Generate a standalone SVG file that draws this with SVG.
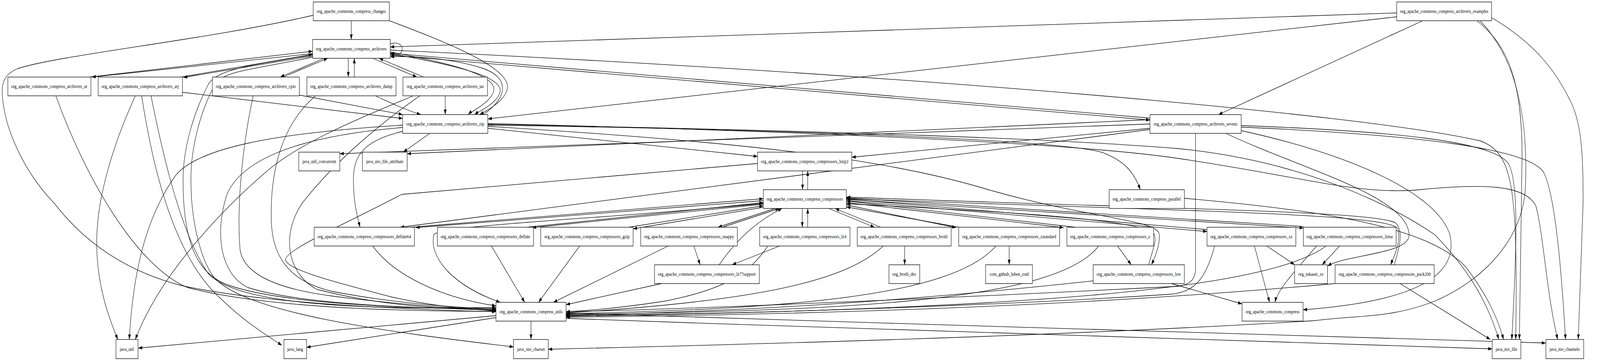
<svg xmlns="http://www.w3.org/2000/svg" width="5297" height="923" viewBox="0 0 5297 923" preserveAspectRatio="none">
<style>
svg{width:100%;height:923px}
.n rect{fill:#fff;stroke:#000;stroke-width:1.3}
.n text{font-family:"Liberation Serif","Times New Roman",serif;font-size:13.5px;text-anchor:middle;fill:#000}
#edges path{fill:none;stroke:#000;stroke-width:1.3;marker-end:url(#a)}
</style>
<defs>
<marker id="a" viewBox="0 0 13 9" refX="13" refY="4.5" markerWidth="13" markerHeight="9" markerUnits="userSpaceOnUse" orient="auto">
<path d="M0,0 L13,4.5 L0,9 z" fill="#000"/>
</marker>
</defs>
<rect width="5297" height="923" fill="#fff"/>
<g id="edges">
<path d="M1163,53 L1163,101"/>
<path d="M1037,39 C700,100 200,140 60,175 C12,190 4,215 8,245 C15,330 80,440 180,520 C300,640 450,700 600,730 C900,780 1400,792 1642,797"/>
<path d="M1289,53 C1450,100 1690,170 1680,225 C1675,255 1620,280 1588,293"/>
<path d="M1292,112 C1345,100 1345,150 1292,140"/>
<path d="M1035,137 L304,197"/>
<path d="M296,197 L1035,131"/>
<path d="M1035,143 L607,198"/>
<path d="M600,197 L1035,139"/>
<path d="M1073,149 L928,197"/>
<path d="M937,197 L1085,149"/>
<path d="M1153,149 L1153,197"/>
<path d="M1173,197 L1173,149"/>
<path d="M1234,149 L1380,197"/>
<path d="M1402,197 L1255,149"/>
<path d="M1292,133 C1480,160 1640,190 1635,230 C1630,260 1560,285 1550,293"/>
<path d="M1292,137 C1500,165 1660,195 1656,232 C1652,262 1585,285 1571,293"/>
<path d="M1600,293 C1680,250 1690,200 1600,175 C1500,150 1380,143 1292,145"/>
<path d="M1292,141 L3807,307"/>
<path d="M3807,302 L1292,136"/>
<path d="M4624,33 L1292,120"/>
<path d="M4624,43 L1615,304"/>
<path d="M4710,53 L4034,293"/>
<path d="M1292,128 C3000,190 4500,290 4900,360 C5010,390 5025,480 5018,868"/>
<path d="M4890,53 C5000,120 5039,220 5039,400 L5030,868"/>
<path d="M4938,45 C5080,110 5150,180 5200,260 C5240,320 5241,420 5241,520 L5225,868"/>
<path d="M4900,53 C5020,150 5060,300 5050,480 C5040,620 4900,720 4750,770 C4600,815 4500,805 4350,820 C3500,860 2500,880 1815,893"/>
<path d="M3958,341 L3958,690 C3956,718 3935,728 3900,732 C3200,760 2300,790 1874,797"/>
<path d="M4109,321 C4600,335 4950,360 4995,420 C5030,470 5020,650 5005,868"/>
<path d="M4109,325 C4700,345 5060,380 5110,440 C5150,500 5170,700 5183,868"/>
<path d="M4109,334 C4500,400 4760,500 4800,600 C4830,700 4700,770 4314,792"/>
<path d="M4059,341 C4300,430 4660,500 4665,600 C4668,650 4460,650 4395,680"/>
<path d="M3807,328 L2820,402"/>
<path d="M3807,331 L1325,581"/>
<path d="M3807,317 L1125,393"/>
<path d="M3807,306 L1348,393"/>
<path d="M1423,341 L1335,389"/>
<path d="M1615,328 L2508,400"/>
<path d="M1615,320 C2500,330 3500,355 3650,390 C3720,410 3755,440 3775,485"/>
<path d="M1615,323 C2400,360 2900,400 3250,480 C3600,560 3835,560 3838,600 C3840,630 3822,660 3812,677"/>
<path d="M1615,318 C2800,335 3500,355 3900,380 C4300,410 4600,520 4750,600 C4850,680 4920,760 4962,868"/>
<path d="M1615,316 C2800,338 3600,370 3900,405 C4300,450 4500,500 4700,485 C4900,470 5050,470 5085,527 C5110,600 5120,750 5157,868"/>
<path d="M1333,336 C1200,360 1170,400 1170,460 C1170,520 1185,560 1192,581"/>
<path d="M1333,320 C900,340 650,380 580,450 C480,560 440,700 428,868"/>
<path d="M1333,326 C950,350 790,420 750,500 C710,600 730,700 820,735 C1000,780 1400,788 1642,792"/>
<path d="M1474,245 L1474,293"/>
<path d="M1368,245 C1200,300 1000,360 880,440 C700,560 520,720 448,868"/>
<path d="M1390,245 C1250,320 1100,420 1000,520 C930,600 950,700 1050,740 C1250,780 1450,790 1642,793"/>
<path d="M1243,245 C1290,262 1340,280 1393,293"/>
<path d="M1045,245 C930,320 895,440 898,560 C900,680 990,725 1100,745 C1300,775 1500,786 1642,790"/>
<path d="M991,243 L1333,293"/>
<path d="M838,245 C795,400 785,550 795,640 C810,710 950,742 1100,757 C1300,777 1500,788 1642,794"/>
<path d="M1035,140 C850,165 720,175 690,215 C640,290 606,380 606,460 C606,600 640,700 760,730 C950,780 1400,790 1642,789"/>
<path d="M1035,146 C860,175 740,180 712,215 C660,290 632,380 632,460 C632,560 660,650 700,700 C780,800 1300,850 1700,887"/>
<path d="M448,245 C380,360 320,500 320,620 C320,740 370,830 390,868"/>
<path d="M469,245 C500,400 560,620 700,740 C800,820 880,855 933,883"/>
<path d="M500,245 C540,400 600,600 690,700 C800,790 1300,790 1642,786"/>
<path d="M604,236 L1333,303"/>
<path d="M185,245 C280,450 450,680 620,735 C900,792 1400,796 1642,796"/>
<path d="M1234,629 C1300,700 1450,760 1642,782"/>
<path d="M2527,520 C2000,560 1460,575 1436,600 C1420,660 1500,730 1656,773"/>
<path d="M2527,513 L1376,582"/>
<path d="M1360,581 L2527,508"/>
<path d="M2527,522 L1762,582"/>
<path d="M1744,581 L2527,518"/>
<path d="M2527,530 L2096,585"/>
<path d="M2082,581 L2527,526"/>
<path d="M2566,533 L2377,581"/>
<path d="M2392,581 L2580,533"/>
<path d="M2656,533 L2656,581"/>
<path d="M2674,581 L2674,533"/>
<path d="M2744,533 L2895,581"/>
<path d="M2916,581 L2765,533"/>
<path d="M2802,524 L3165,582"/>
<path d="M3175,581 L2802,529"/>
<path d="M2802,518 L3521,582"/>
<path d="M3560,581 L2802,514"/>
<path d="M2802,513 L3996,592"/>
<path d="M3996,587 L2802,509"/>
<path d="M2802,510 L4315,583"/>
<path d="M4315,579 L2802,506"/>
<path d="M2802,508 C3900,540 4600,545 4628,585 C4640,620 4612,660 4604,677"/>
<path d="M4616,677 C4630,640 4650,590 4620,570 C4560,540 3900,535 2802,504"/>
<path d="M3803,677 C3815,640 3832,612 3820,598 C3780,560 3300,540 2802,521"/>
<path d="M2657,437 L2657,485"/>
<path d="M2674,485 L2674,437"/>
<path d="M2297,629 L2318,677"/>
<path d="M2581,629 L2424,677"/>
<path d="M2381,677 C2450,600 2520,560 2589,533"/>
<path d="M2212,629 L1832,773"/>
<path d="M1627,629 L1737,773"/>
<path d="M1919,629 L1783,773"/>
<path d="M2190,725 L1874,779"/>
<path d="M2542,629 C2480,700 2400,740 2200,770 C2050,788 1950,794 1874,797"/>
<path d="M2924,629 C2800,720 2500,770 1874,800"/>
<path d="M2995,629 L2995,677"/>
<path d="M3297,629 C3150,760 2600,790 1874,802"/>
<path d="M3341,629 L3341,677"/>
<path d="M3637,629 C3500,770 2800,795 1874,804"/>
<path d="M3700,629 L3745,677"/>
<path d="M3621,718 C3000,770 2500,795 1874,806"/>
<path d="M3878,725 L4112,777"/>
<path d="M4021,629 C3990,720 3950,745 3880,752 C3300,782 2500,802 1874,807"/>
<path d="M4153,629 L4203,773"/>
<path d="M4194,629 L4286,677"/>
<path d="M4390,629 C4200,740 3400,790 1874,809"/>
<path d="M4359,629 C4290,690 4230,740 4221,773"/>
<path d="M4435,629 L4377,677"/>
<path d="M4420,725 C3500,790 2500,806 1874,811"/>
<path d="M4635,725 L4934,868"/>
<path d="M3921,507 C4400,540 4720,580 4850,680 C4930,760 4960,820 4978,868"/>
<path d="M1642,807 L458,890"/>
<path d="M1642,812 L1015,888"/>
<path d="M1758,821 L1758,868"/>
<path d="M1874,800 C3000,830 4500,860 5117,877"/>
<path d="M1874,814 C3000,845 4200,878 4940,892"/>
<path d="M2508,418 L1330,497 C1150,570 940,640 945,665 C955,690 1100,720 1300,760 C1450,785 1550,790 1642,795"/>
</g>
<g id="n_changes" class="n"><rect x="1037" y="5" width="252" height="48"/><text x="1163" y="33.5">org_apache_commons_compress_changes</text></g>
<g id="n_examples" class="n"><rect x="4624" y="5" width="314" height="48"/><text x="4781" y="33.5">org_apache_commons_compress_archivers_examples</text></g>
<g id="n_archivers" class="n"><rect x="1035" y="101" width="257" height="48"/><text x="1163" y="129.5">org_apache_commons_compress_archivers</text></g>
<g id="n_ar" class="n"><rect x="26" y="197" width="275" height="48"/><text x="163" y="225.5">org_apache_commons_compress_archivers_ar</text></g>
<g id="n_arj" class="n"><rect x="325" y="197" width="279" height="48"/><text x="464" y="225.5">org_apache_commons_compress_archivers_arj</text></g>
<g id="n_cpio" class="n"><rect x="703" y="197" width="288" height="48"/><text x="847" y="225.5">org_apache_commons_compress_archivers_cpio</text></g>
<g id="n_dump" class="n"><rect x="1016" y="197" width="295" height="48"/><text x="1163" y="225.5">org_apache_commons_compress_archivers_dump</text></g>
<g id="n_tar" class="n"><rect x="1334" y="197" width="280" height="48"/><text x="1474" y="225.5">org_apache_commons_compress_archivers_tar</text></g>
<g id="n_zip" class="n"><rect x="1333" y="293" width="282" height="48"/><text x="1474" y="321.5">org_apache_commons_compress_archivers_zip</text></g>
<g id="n_sevenz" class="n"><rect x="3807" y="293" width="302" height="48"/><text x="3958" y="321.5">org_apache_commons_compress_archivers_sevenz</text></g>
<g id="n_concurrent" class="n"><rect x="989" y="389" width="136" height="48"/><text x="1057" y="417.5">java_util_concurrent</text></g>
<g id="n_attribute" class="n"><rect x="1200" y="389" width="148" height="48"/><text x="1274" y="417.5">java_nio_file_attribute</text></g>
<g id="n_bzip2" class="n"><rect x="2508" y="389" width="312" height="48"/><text x="2664" y="417.5">org_apache_commons_compress_compressors_bzip2</text></g>
<g id="n_compressors" class="n"><rect x="2527" y="485" width="275" height="48"/><text x="2664" y="513.5">org_apache_commons_compress_compressors</text></g>
<g id="n_parallel" class="n"><rect x="3672" y="485" width="249" height="48"/><text x="3796" y="513.5">org_apache_commons_compress_parallel</text></g>
<g id="n_deflate64" class="n"><rect x="1040" y="581" width="332" height="48"/><text x="1206" y="609.5">org_apache_commons_compress_compressors_deflate64</text></g>
<g id="n_deflate" class="n"><rect x="1448" y="581" width="318" height="48"/><text x="1607" y="609.5">org_apache_commons_compress_compressors_deflate</text></g>
<g id="n_gzip" class="n"><rect x="1790" y="581" width="306" height="48"/><text x="1943" y="609.5">org_apache_commons_compress_compressors_gzip</text></g>
<g id="n_snappy" class="n"><rect x="2121" y="581" width="320" height="48"/><text x="2281" y="609.5">org_apache_commons_compress_compressors_snappy</text></g>
<g id="n_lz4" class="n"><rect x="2515" y="581" width="299" height="48"/><text x="2664" y="609.5">org_apache_commons_compress_compressors_lz4</text></g>
<g id="n_brotli" class="n"><rect x="2838" y="581" width="311" height="48"/><text x="2993" y="609.5">org_apache_commons_compress_compressors_brotli</text></g>
<g id="n_zstandard" class="n"><rect x="3174" y="581" width="334" height="48"/><text x="3341" y="609.5">org_apache_commons_compress_compressors_zstandard</text></g>
<g id="n_z" class="n"><rect x="3532" y="581" width="287" height="48"/><text x="3675" y="609.5">org_apache_commons_compress_compressors_z</text></g>
<g id="n_xz" class="n"><rect x="3996" y="581" width="294" height="48"/><text x="4143" y="609.5">org_apache_commons_compress_compressors_xz</text></g>
<g id="n_lzma" class="n"><rect x="4315" y="581" width="307" height="48"/><text x="4468" y="609.5">org_apache_commons_compress_compressors_lzma</text></g>
<g id="n_lz77support" class="n"><rect x="2167" y="677" width="347" height="48"/><text x="2340" y="705.5">org_apache_commons_compress_compressors_lz77support</text></g>
<g id="n_brotli_dec" class="n"><rect x="2943" y="677" width="102" height="48"/><text x="2994" y="705.5">org_brotli_dec</text></g>
<g id="n_luben_zstd" class="n"><rect x="3263" y="677" width="155" height="48"/><text x="3341" y="705.5">com_github_luben_zstd</text></g>
<g id="n_lzw" class="n"><rect x="3619" y="677" width="302" height="48"/><text x="3770" y="705.5">org_apache_commons_compress_compressors_lzw</text></g>
<g id="n_tukaani" class="n"><rect x="4286" y="677" width="109" height="48"/><text x="4340" y="705.5">org_tukaani_xz</text></g>
<g id="n_pack200" class="n"><rect x="4420" y="677" width="328" height="48"/><text x="4584" y="705.5">org_apache_commons_compress_compressors_pack200</text></g>
<g id="n_utils" class="n"><rect x="1642" y="773" width="232" height="48"/><text x="1758" y="801.5">org_apache_commons_compress_utils</text></g>
<g id="n_compress" class="n"><rect x="4112" y="773" width="202" height="48"/><text x="4213" y="801.5">org_apache_commons_compress</text></g>
<g id="n_java_util" class="n"><rect x="384" y="868" width="73" height="49"/><text x="420" y="897">java_util</text></g>
<g id="n_java_lang" class="n"><rect x="940" y="868" width="75" height="49"/><text x="977" y="897">java_lang</text></g>
<g id="n_charset" class="n"><rect x="1700" y="868" width="115" height="49"/><text x="1758" y="897">java_nio_charset</text></g>
<g id="n_nio_file" class="n"><rect x="4940" y="868" width="95" height="49"/><text x="4987" y="897">java_nio_file</text></g>
<g id="n_channels" class="n"><rect x="5118" y="868" width="125" height="49"/><text x="5180" y="897">java_nio_channels</text></g>
</svg>
